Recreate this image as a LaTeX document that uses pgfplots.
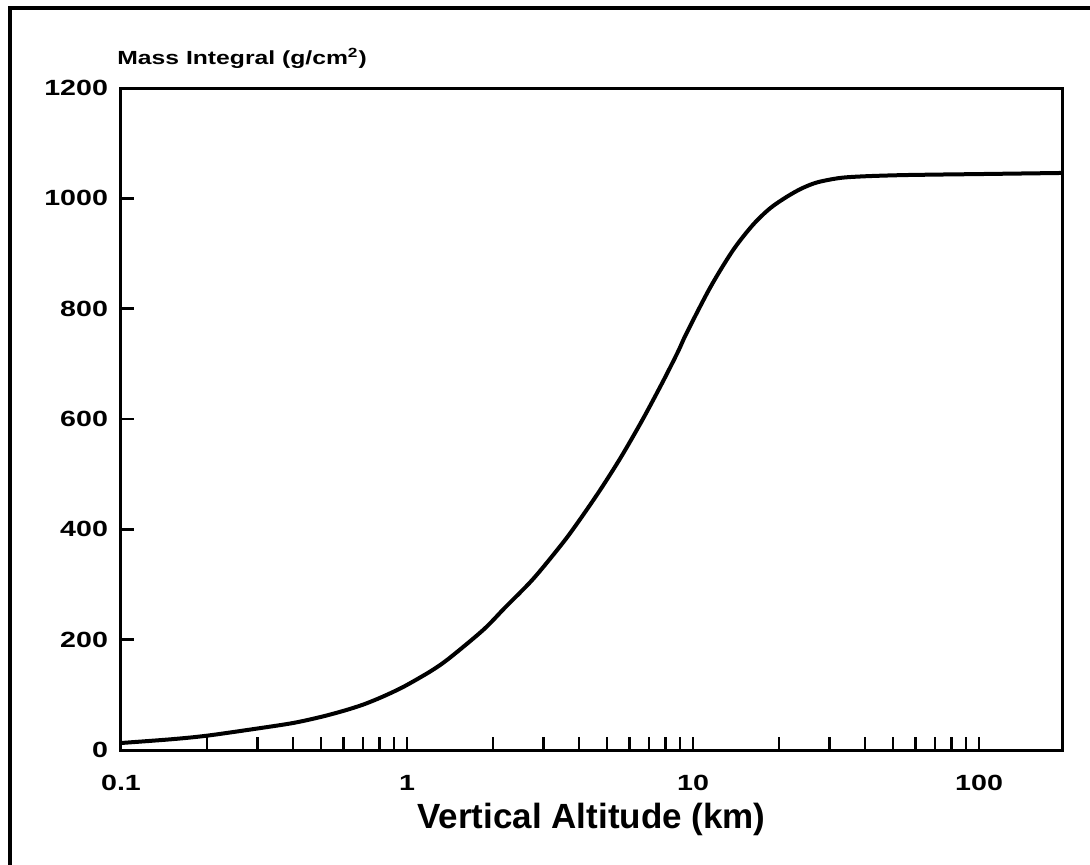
\documentclass[border=0pt]{standalone}
\usepackage{fontspec}
\setmainfont{Liberation Sans}
\newfontfamily\widefont{Liberation Sans}[FakeStretch=1.3]
\usepackage{pgfplots}
\pgfplotsset{compat=1.18}
\begin{document}
\begin{tikzpicture}
\useasboundingbox (-60.5pt,-57pt) rectangle (484.5pt,375pt);
\draw[line width=2.2pt] (-55.5pt,-80pt) -- (-55.5pt,371pt) -- (500pt,371pt);
\begin{axis}[
  scale only axis,
  width=470.5pt, height=331pt,
  xmode=log, xmin=0.1, xmax=195, ymin=0, ymax=1200,
  axis line style={line width=1.5pt},
  xtick={0.1,1,10,100}, xticklabels={0.1,1,10,100},
  minor xtick={0.2,0.3,0.4,0.5,0.6,0.7,0.8,0.9,2,3,4,5,6,7,8,9,20,30,40,50,60,70,80,90},
  ytick={0,200,400,600,800,1000,1200},
  yticklabels={0,200,400,600,800,1000,1200},
  tick align=inside, xtick pos=bottom, ytick pos=left,
  major tick length=6.5pt, minor tick length=6.5pt,
  every tick/.style={line width=1.2pt, black},
  every minor tick/.style={line width=1.2pt, black},
  /pgf/number format/assume math mode=true,
  ticklabel style={font=\widefont\bfseries\fontsize{11}{11}\selectfont},
  xticklabel style={yshift=-9pt},
  yticklabel style={xshift=-3pt},
  xlabel={Vertical Altitude (km)},
  xlabel style={font=\bfseries\fontsize{17.5}{17.5}\selectfont, at={(rel axis cs:0.5,0)}, anchor=base, yshift=-39pt},
  clip=false,
]
\addplot[line width=2pt, black, smooth, tension=0.5] coordinates {
(0.1,12.7) (0.15,19.5) (0.2,26) (0.3,39) (0.4,49) (0.5,60) (0.6,71) (0.7,82) (0.8,94) (0.9,106)
(1.0,118) (1.22,144) (1.41,167) (1.85,218) (2.2,258) (2.76,310) (3.5,375) (4.0,416)
(4.73,471) (5.6,531) (6.68,600) (7.85,668) (8.86,722) (9.5,756) (11.5,839)
(13.8,906) (16.2,952) (18.6,982) (21.3,1003) (24,1018) (27.2,1029) (32.7,1037)
(40,1040) (53,1042) (70,1043) (100,1044) (195,1046)
};
\node[anchor=base west, inner sep=0pt, font=\widefont\bfseries\fontsize{9.5}{9.5}\selectfont]
  at (rel axis cs:0,1) [xshift=-2pt, yshift=11.5pt] {Mass Integral (g/cm\textsuperscript{2})};
\end{axis}
\end{tikzpicture}
\end{document}
